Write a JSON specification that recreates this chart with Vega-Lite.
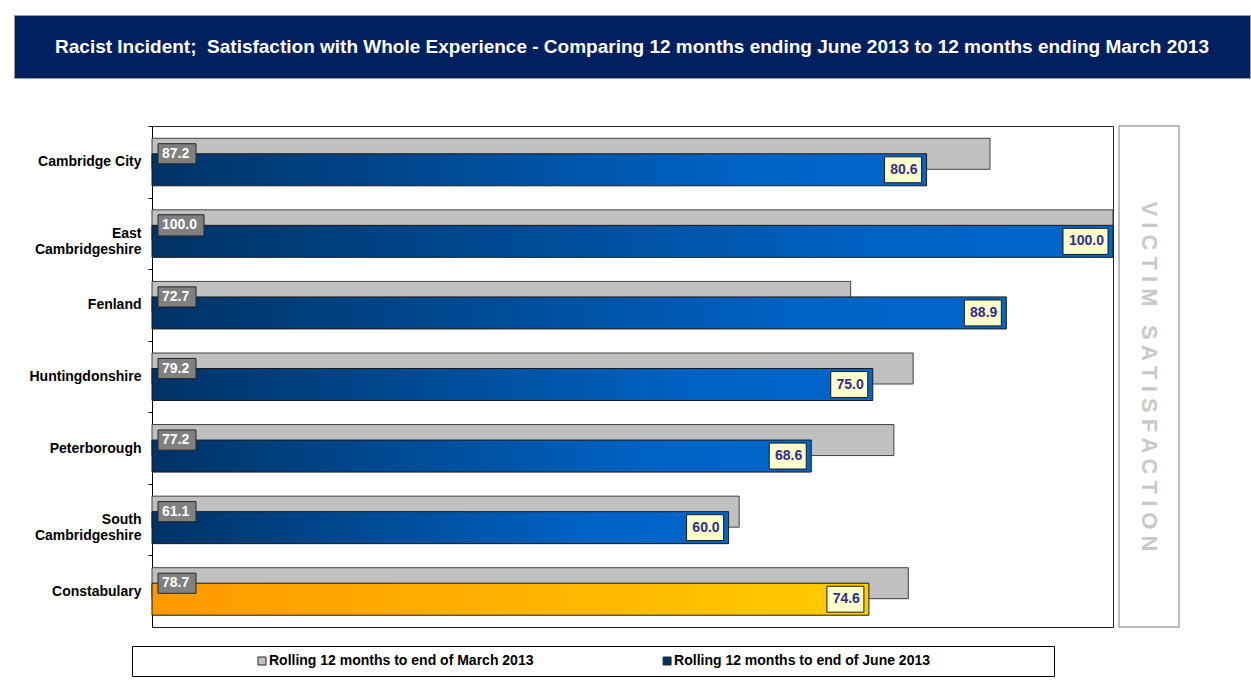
{
  "$schema": "https://vega.github.io/schema/vega-lite/v6.json",
  "padding": {"left": 13, "top": 14, "right": 2, "bottom": 0},
  "background": "white",
  "config": {"font": "Liberation Sans", "view": {"stroke": null}},
  "spacing": 46,
  "vconcat": [
    {
      "width": 1236,
      "height": 63,
      "view": {"fill": "#002060", "stroke": "#9a9a9a", "strokeWidth": 1},
      "data": {"values": [{"label": "Racist Incident;\u00a0 Satisfaction with Whole Experience - Comparing 12 months ending June 2013 to 12 months ending March 2013"}]},
      "mark": {"type": "text", "color": "white", "fontWeight": "bold", "fontSize": 19, "align": "center", "baseline": "middle"},
      "encoding": {"text": {"field": "label", "type": "nominal"}}
    },
    {
      "spacing": 17,
      "vconcat": [
        {
          "spacing": 6,
          "bounds": "flush",
          "hconcat": [
            {
              "width": 132,
              "height": 501,
              "data": {"values": [{"label": ""}]},
              "mark": {"type": "text"},
              "encoding": {"text": {"field": "label", "type": "nominal"}}
            },
            {
              "width": 961,
              "height": 501,
              "data": {"values": [
                {"area": "Cambridge City", "march": 87.2, "june": 80.6},
                {"area": "East Cambridgeshire", "march": 100.0, "june": 100.0},
                {"area": "Fenland", "march": 72.7, "june": 88.9},
                {"area": "Huntingdonshire", "march": 79.2, "june": 75.0},
                {"area": "Peterborough", "march": 77.2, "june": 68.6},
                {"area": "South Cambridgeshire", "march": 61.1, "june": 60.0},
                {"area": "Constabulary", "march": 78.7, "june": 74.6}
              ]},
              "view": {"stroke": "#262626", "strokeWidth": 1, "fill": "white"},
              "encoding": {
                "y": {
                  "field": "area",
                  "type": "nominal",
                  "sort": null,
                  "scale": {"paddingInner": 0, "paddingOuter": 0},
                  "axis": {
                    "title": null,
                    "labelFontSize": 14,
                    "labelFontWeight": "bold",
                    "labelColor": "black",
                    "labelPadding": 7,
                    "tickSize": 4,
                    "tickColor": "black",
                    "tickOffset": -35.79,
                    "labelOffset": 35.79,
                    "domainColor": "black",
                    "labelLimit": 200,
                    "labelLineHeight": 16,
                    "labelExpr": "indexof(datum.value, 'Cambridgeshire') > 0 ? split(datum.value, ' ') : datum.value"
                  }
                }
              },
              "layer": [
                {
                  "mark": {"type": "bar", "height": 31, "yOffset": -8, "fill": "#c0c0c0", "stroke": "#404040", "strokeWidth": 1},
                  "encoding": {"x": {"field": "march", "type": "quantitative", "scale": {"domain": [0, 100], "nice": false}, "axis": null}}
                },
                {
                  "transform": [{"filter": "datum.area !== 'Constabulary'"}],
                  "mark": {
                    "type": "bar", "height": 32, "yOffset": 8, "stroke": "#1a1a1a", "strokeWidth": 1,
                    "fill": {"gradient": "linear", "x1": 0, "x2": 1, "y1": 0, "y2": 0, "stops": [{"offset": 0, "color": "#003366"}, {"offset": 0.75, "color": "#0062c4"}, {"offset": 1, "color": "#0066cc"}]}
                  },
                  "encoding": {"x": {"field": "june", "type": "quantitative", "axis": null}}
                },
                {
                  "transform": [{"filter": "datum.area === 'Constabulary'"}],
                  "mark": {
                    "type": "bar", "height": 32, "yOffset": 8, "stroke": "#1a1a1a", "strokeWidth": 1,
                    "fill": {"gradient": "linear", "x1": 0, "x2": 1, "y1": 0, "y2": 0, "stops": [{"offset": 0, "color": "#ff9900"}, {"offset": 1, "color": "#ffcc00"}]}
                  },
                  "encoding": {"x": {"field": "june", "type": "quantitative", "axis": null}}
                },
                {
                  "mark": {"type": "point", "filled": true, "opacity": 1, "fill": "#808080", "stroke": "#262626", "strokeWidth": 1, "xOffset": 6, "yOffset": -8},
                  "encoding": {
                    "x": {"datum": 0, "type": "quantitative", "axis": null},
                    "shape": {"condition": {"test": "datum.march >= 100", "value": "M0,-0.46L2,-0.46L2,0.46L0,0.46Z"}, "value": "M0,-0.53L2,-0.53L2,0.53L0,0.53Z"},
                    "size": {"condition": {"test": "datum.march >= 100", "value": 2116}, "value": 1444}
                  }
                },
                {
                  "mark": {"type": "text", "align": "left", "baseline": "middle", "dx": 10, "yOffset": -8, "color": "white", "fontWeight": "bold", "fontSize": 14},
                  "encoding": {
                    "x": {"datum": 0, "type": "quantitative", "axis": null},
                    "text": {"field": "march", "type": "quantitative", "format": ".1f"}
                  }
                },
                {
                  "mark": {"type": "point", "filled": true, "opacity": 1, "fill": "#ffffcc", "stroke": "#1a1a1a", "strokeWidth": 1, "xOffset": -5, "yOffset": 8},
                  "encoding": {
                    "x": {"field": "june", "type": "quantitative", "axis": null},
                    "shape": {"condition": {"test": "datum.june >= 100", "value": "M-2,-0.58L0,-0.58L0,0.58L-2,0.58Z"}, "value": "M-2,-0.7L0,-0.7L0,0.7L-2,0.7Z"},
                    "size": {"condition": {"test": "datum.june >= 100", "value": 2025}, "value": 1369}
                  }
                },
                {
                  "mark": {"type": "text", "align": "right", "baseline": "middle", "dx": -9, "yOffset": 8, "color": "#2e2e8c", "fontWeight": "bold", "fontSize": 14},
                  "encoding": {
                    "x": {"field": "june", "type": "quantitative", "axis": null},
                    "text": {"field": "june", "type": "quantitative", "format": ".1f"}
                  }
                }
              ]
            },
            {
              "width": 60,
              "height": 501,
              "data": {"values": [{"label": "V I C T I M \u00a0 S A T I S F A C T I O N"}]},
              "view": {"stroke": "#a6a6a6", "strokeWidth": 1.5, "fill": "white"},
              "mark": {"type": "text", "angle": 90, "fontSize": 22, "fontWeight": "bold", "color": "#c8c8c8", "align": "center", "baseline": "middle"},
              "encoding": {"text": {"field": "label", "type": "nominal"}}
            }
          ]
        },
        {
          "spacing": 0,
          "hconcat": [
            {
              "width": 117,
              "height": 30,
              "data": {"values": [{"label": ""}]},
              "mark": {"type": "text"},
              "encoding": {"text": {"field": "label", "type": "nominal"}}
            },
            {
              "width": 922,
              "height": 30,
              "data": {"values": [
                {"series": "Rolling 12 months to end of March 2013", "period": "March"},
                {"series": "Rolling 12 months to end of June 2013", "period": "June"}
              ]},
              "view": {"stroke": "black", "strokeWidth": 1, "fill": "white"},
              "encoding": {
                "x": {"field": "series", "type": "nominal", "sort": null, "scale": {"type": "point", "padding": 0.638, "align": 0.265}, "axis": null}
              },
              "layer": [
                {
                  "mark": {"type": "point", "shape": "square", "filled": true, "opacity": 1, "size": 64, "xOffset": -7, "stroke": "#262626", "strokeWidth": 1},
                  "encoding": {"fill": {"field": "period", "type": "nominal", "scale": {"domain": ["March", "June"], "range": ["#c0c0c0", "#003366"]}, "legend": null}}
                },
                {
                  "mark": {"type": "text", "align": "left", "baseline": "middle", "fontSize": 14, "fontWeight": "bold", "color": "black"},
                  "encoding": {"text": {"field": "series", "type": "nominal"}}
                }
              ]
            }
          ]
        }
      ]
    }
  ]
}
